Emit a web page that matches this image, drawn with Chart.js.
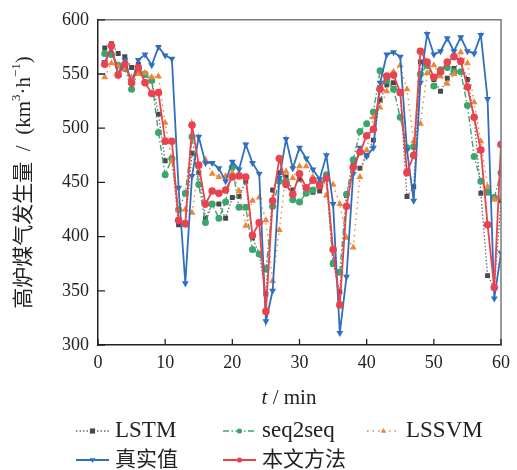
<!DOCTYPE html>
<html>
<head>
<meta charset="utf-8">
<script src="https://cdn.jsdelivr.net/npm/chart.js@4/dist/chart.umd.min.js"></script>
<style>
  body { margin: 0; background: #ffffff; }
  #wrap { width: 517px; height: 470px; }
</style>
</head>
<body>
<div id="wrap"><canvas id="gasChart" width="517" height="470"></canvas></div>
<script>
// time steps (min)
const minutes = Array.from({ length: 60 }, (_, i) => i + 1);

const lstmValues = [574, 578, 569, 566, 556, 559, 549, 544, 513, 470, 472, 411, 411, 477, 459, 417, 430, 430, 417, 436,
  437, 451, 399, 384, 347, 443, 459, 455, 443, 453, 440, 441, 442, 453, 376, 349, 438, 466, 463, 475,
  489, 526, 540, 542, 532, 437, 446, 561, 558, 545, 534, 546, 555, 561, 545, 510, 440, 364, 353, 433];

const seq2seqValues = [569, 568, 558, 555, 536, 553, 550, 544, 496, 457, 472, 425, 440, 492, 448, 413, 430, 417, 432, 464,
  427, 427, 388, 384, 370, 428, 451, 451, 434, 432, 440, 443, 449, 457, 375, 367, 439, 471, 497, 504,
  515, 553, 544, 536, 510, 482, 483, 550, 558, 539, 554, 556, 552, 552, 521, 474, 451, 441, 436, 459];

const lssvmValues = [547, 560, 557, 555, 547, 550, 551, 547, 548, 505, 470, 424, 425, 422, 465, 471, 458, 455, 456, 459,
  442, 410, 433, 436, 415, 359, 406, 460, 454, 465, 465, 455, 448, 438, 448, 430, 399, 390, 455, 480,
  510, 519, 534, 552, 558, 536, 488, 504, 551, 558, 548, 541, 550, 570, 560, 524, 488, 446, 434, 436];

const actualValues = [561, 574, 550, 563, 541, 563, 568, 558, 575, 567, 564, 445, 357, 456, 492, 468, 468, 463, 451, 469,
  462, 485, 468, 458, 322, 350, 454, 490, 463, 482, 472, 462, 453, 475, 430, 311, 363, 458, 482, 474,
  482, 542, 568, 570, 566, 480, 433, 542, 587, 568, 571, 583, 571, 584, 571, 569, 586, 527, 343, 385];

const proposedValues = [559, 576, 549, 559, 542, 556, 542, 532, 533, 488, 488, 415, 412, 503, 466, 430, 442, 440, 443, 455,
  456, 455, 401, 413, 331, 433, 472, 448, 439, 458, 445, 452, 447, 454, 388, 337, 428, 464, 478, 493,
  499, 536, 548, 549, 533, 459, 475, 571, 561, 547, 552, 561, 566, 562, 538, 510, 480, 411, 353, 485];

const xTicks = [0, 10, 20, 30, 40, 50, 60];
const yTicks = [300, 350, 400, 450, 500, 550, 600];

const SERIF = '"Liberation Serif", "Times New Roman", "Noto Sans CJK SC", serif';

function pts(values) {
  return values.map((v, i) => ({ x: minutes[i], y: v }));
}

// draw a marker by hand (used in legend)
function marker(ctx, style, rot, r, x, y) {
  ctx.beginPath();
  if (style === 'rect') {
    ctx.rect(x - r, y - r, 2 * r, 2 * r);
  } else if (style === 'triangle') {
    const s = rot === 180 ? -1 : 1;
    ctx.moveTo(x, y - s * r * 1.2);
    ctx.lineTo(x - r * 1.1, y + s * r * 0.7);
    ctx.lineTo(x + r * 1.1, y + s * r * 0.7);
    ctx.closePath();
  } else {
    ctx.arc(x, y, r, 0, Math.PI * 2);
  }
  ctx.fill();
}

const decorPlugin = {
  id: 'decor',
  afterDraw(chart) {
    const { ctx, chartArea: a, scales } = chart;
    ctx.save();

    // top and right frame
    ctx.strokeStyle = '#7a7a7a';
    ctx.lineWidth = 1.5;
    ctx.beginPath();
    ctx.moveTo(a.left, a.top);
    ctx.lineTo(a.right, a.top);
    ctx.lineTo(a.right, a.bottom);
    ctx.stroke();

    // inward ticks
    ctx.strokeStyle = '#222';
    ctx.lineWidth = 1.3;
    ctx.beginPath();
    yTicks.forEach(v => {
      const py = scales.y.getPixelForValue(v);
      ctx.moveTo(a.left, py);
      ctx.lineTo(a.left + 7, py);
    });
    xTicks.forEach(v => {
      const px = scales.x.getPixelForValue(v);
      ctx.moveTo(px, a.bottom);
      ctx.lineTo(px, a.bottom - 6);
    });
    ctx.stroke();

    // x title: italic t / min
    ctx.fillStyle = '#222';
    ctx.textBaseline = 'middle';
    ctx.textAlign = 'left';
    const tFont = 'italic 21px ' + SERIF;
    const rFont = '21px ' + SERIF;
    ctx.font = tFont;
    const w1 = ctx.measureText('t').width;
    ctx.font = rFont;
    const w2 = ctx.measureText(' / min').width;
    let sx = 289 - (w1 + w2) / 2;
    ctx.font = tFont;
    ctx.fillText('t', sx, 398);
    ctx.font = rFont;
    ctx.fillText(' / min', sx + w1, 398);

    // y title with superscripts
    const runs = [
      { t: '高炉煤气发生量  /  (km', sup: false },
      { t: '3', sup: true },
      { t: '·h', sup: false },
      { t: '−1', sup: true },
      { t: ')', sup: false }
    ];
    const fs = 21;
    let total = 0;
    runs.forEach(r => {
      ctx.font = (r.sup ? Math.round(fs * 0.62) : fs) + 'px ' + SERIF;
      r.w = ctx.measureText(r.t).width;
      total += r.w;
    });
    ctx.translate(24, (a.top + a.bottom) / 2);
    ctx.rotate(-Math.PI / 2);
    let px = -total / 2;
    runs.forEach(r => {
      ctx.font = (r.sup ? Math.round(fs * 0.62) : fs) + 'px ' + SERIF;
      ctx.fillText(r.t, px, r.sup ? -7 : 0);
      px += r.w;
    });
    ctx.setTransform(1, 0, 0, 1, 0, 0);

    // legend
    const spots = [
      { i: 0, x: 76, y: 431 },
      { i: 1, x: 223, y: 431 },
      { i: 2, x: 367, y: 431 },
      { i: 3, x: 76, y: 460 },
      { i: 4, x: 223, y: 460 }
    ];
    spots.forEach(s => {
      const ds = chart.data.datasets[s.i];
      ctx.strokeStyle = ds.borderColor;
      ctx.lineWidth = ds.borderWidth;
      ctx.setLineDash(ds.borderDash || []);
      ctx.beginPath();
      ctx.moveTo(s.x, s.y);
      ctx.lineTo(s.x + 33, s.y);
      ctx.stroke();
      ctx.setLineDash([]);
      ctx.fillStyle = ds.pointBackgroundColor;
      marker(ctx, ds.pointStyle, ds.pointRotation || 0, 2.6, s.x + 16.5, s.y);
      ctx.fillStyle = '#222';
      ctx.font = (s.i < 3 ? '23px ' : '21px ') + SERIF;
      ctx.textBaseline = 'middle';
      ctx.fillText(ds.label, s.x + 39, s.y);
    });

    ctx.restore();
  }
};

new Chart(document.getElementById('gasChart'), {
  type: 'line',
  data: {
    datasets: [
      {
        label: 'LSTM',
        data: pts(lstmValues),
        borderColor: '#6a6a6a',
        borderWidth: 1.3,
        borderDash: [1.5, 2],
        pointStyle: 'rect',
        pointRadius: 3.5,
        pointBackgroundColor: '#4a4a4a',
        pointBorderWidth: 0,
        order: 5
      },
      {
        label: 'seq2seq',
        data: pts(seq2seqValues),
        borderColor: '#3aa56c',
        borderWidth: 1.4,
        borderDash: [6, 2.5, 1.5, 2.5],
        pointStyle: 'circle',
        pointRadius: 3.5,
        pointBackgroundColor: '#3aa56c',
        pointBorderWidth: 0,
        order: 4
      },
      {
        label: 'LSSVM',
        data: pts(lssvmValues),
        borderColor: '#ee8638',
        borderWidth: 1.4,
        borderDash: [1.5, 4],
        pointStyle: 'triangle',
        pointRadius: 4,
        pointBackgroundColor: '#ee8638',
        pointBorderWidth: 0,
        order: 3
      },
      {
        label: '真实值',
        data: pts(actualValues),
        borderColor: '#2f6fbd',
        borderWidth: 1.8,
        pointStyle: 'triangle',
        pointRotation: 180,
        pointRadius: 4,
        pointBackgroundColor: '#2f6fbd',
        pointBorderWidth: 0,
        order: 2
      },
      {
        label: '本文方法',
        data: pts(proposedValues),
        borderColor: '#e8434f',
        borderWidth: 1.8,
        pointStyle: 'circle',
        pointRadius: 3.8,
        pointBackgroundColor: '#e8434f',
        pointBorderWidth: 0,
        order: 1
      }
    ]
  },
  options: {
    responsive: false,
    animation: false,
    events: [],
    layout: { padding: { left: 0, right: 13, top: 17, bottom: 0 } },
    plugins: {
      legend: { display: false },
      tooltip: { enabled: false }
    },
    elements: { line: { tension: 0 } },
    scales: {
      x: {
        type: 'linear',
        min: 0,
        max: 60,
        afterFit: s => { s.height = 125; },
        afterBuildTicks: s => { s.ticks = xTicks.map(v => ({ value: v })); },
        grid: { display: false, drawTicks: false },
        border: { display: true, color: '#222', width: 1.5 },
        ticks: { padding: 7, color: '#222', font: { family: SERIF, size: 18 } }
      },
      y: {
        type: 'linear',
        min: 300,
        max: 600,
        afterFit: s => { s.width = 98; },
        afterBuildTicks: s => { s.ticks = yTicks.map(v => ({ value: v })); },
        grid: { display: false, drawTicks: false },
        border: { display: true, color: '#222', width: 1.5 },
        ticks: { padding: 9, color: '#222', font: { family: SERIF, size: 18 } }
      }
    }
  },
  plugins: [decorPlugin]
});
</script>
</body>
</html>
